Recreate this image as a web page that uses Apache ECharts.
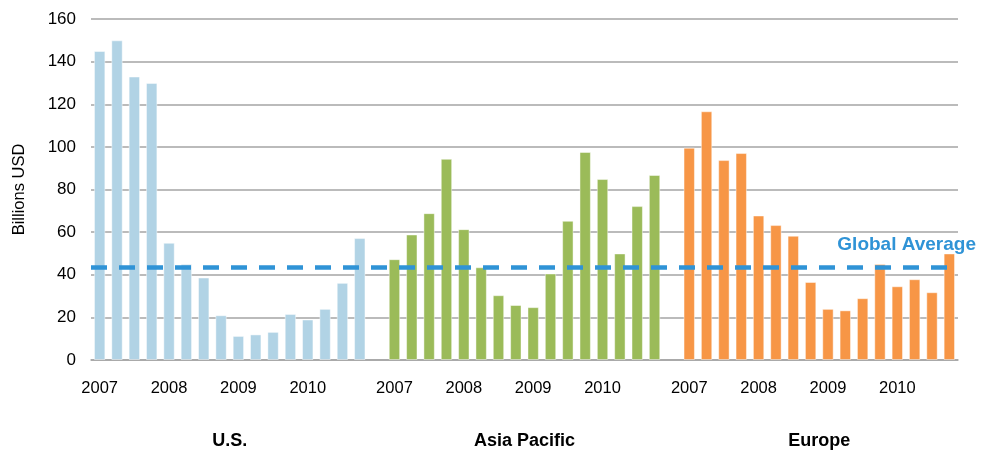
<!DOCTYPE html>
<html>
<head>
<meta charset="utf-8">
<script src="https://cdn.jsdelivr.net/npm/echarts@6/dist/echarts.min.js"></script>
<style>
  html, body { margin: 0; padding: 0; background: #fff; }
  #chart { width: 985px; height: 454px; }
</style>
</head>
<body>
<div id="chart"></div>
<script>
// 数据
const regions = ['U.S.', 'Asia Pacific', 'Europe']
const years = ['2007', '2008', '2009', '2010']
const usValues = [145, 150, 133, 130, 55, 45, 38.7, 21, 11.3, 12, 13.2, 21.6, 19, 24, 36.2, 57.2]
const asiaValues = [47.3, 58.9, 68.9, 94.4, 61.4, 43.5, 30.4, 25.8, 24.8, 40.6, 65.3, 97.6, 84.9, 50, 72.2, 86.8]
const europeValues = [99.6, 116.7, 93.8, 97.1, 67.8, 63.3, 58.3, 36.6, 24, 23.3, 29, 45, 34.6, 37.9, 31.8, 50]
const globalAverage = 43.4
const yTicks = [0, 20, 40, 60, 80, 100, 120, 140, 160]

const regionValues = [usValues, asiaValues, europeValues]
const colors = ['#b1d3e5', '#9bbb59', '#f79646']
const font = '"Liberation Sans", Arial, sans-serif'

// 构造类目：每个地区16个季度，中间空一格
let categories = []
let groupCenters = []
regions.forEach(function (r, g) {
    if (g > 0) categories.push('gap' + g)
    groupCenters.push(categories.length + 7.5)
    years.forEach(function (y) {
        for (let q = 1; q <= 4; q++) categories.push(r + '|' + y + '|Q' + q)
    })
})

const series = regionValues.map(function (vals, g) {
    const start = categories.indexOf(regions[g] + '|' + years[0] + '|Q1')
    const data = categories.map(function (c, i) {
        const k = i - start
        return (k >= 0 && k < vals.length) ? vals[k] : '-'
    })
    return {
        name: regions[g],
        type: 'bar',
        data: data,
        barWidth: 11.4,
        barGap: '-100%',
        itemStyle: { color: colors[g], borderColor: 'rgba(255,255,255,0.45)', borderWidth: 1 },
        z: 2
    }
})

// 全球平均线
series[2].markLine = {
    silent: true,
    symbol: 'none',
    z: 5,
    data: [{ yAxis: globalAverage }],
    lineStyle: { color: '#2f93d6', type: [16, 12], width: 4.5 },
    label: {
        show: true,
        position: 'insideEndTop',
        distance: [-18, 13],
        formatter: 'Global Average',
        color: '#2f93d6',
        fontFamily: font,
        fontWeight: 'bold',
        fontSize: 19
    }
}

const chart = echarts.init(document.getElementById('chart'))
chart.setOption({
    animation: false,
    grid: { left: 91, right: 27, top: 19, bottom: 94 },
    xAxis: [{
        type: 'category',
        data: categories,
        axisLine: { lineStyle: { color: '#a5a5a5', width: 1.5 } },
        axisTick: { show: false },
        axisLabel: {
            interval: function (i, v) { return v.slice(-2) === 'Q1' },
            formatter: function (v) { return v.split('|')[1] },
            margin: 20,
            color: '#000',
            fontFamily: font,
            fontSize: 16.5
        }
    }, {
        type: 'value',
        min: -0.5,
        max: categories.length - 0.5,
        position: 'bottom',
        offset: 60,
        axisLine: { show: false },
        axisTick: { show: false },
        splitLine: { show: false },
        axisLabel: {
            customValues: groupCenters,
            formatter: function (v) { return regions[groupCenters.indexOf(v)] || '' },
            margin: 12,
            color: '#000',
            fontFamily: font,
            fontWeight: 'bold',
            fontSize: 18
        }
    }],
    yAxis: {
        type: 'value',
        min: yTicks[0],
        max: yTicks[yTicks.length - 1],
        interval: 20,
        name: 'Billions USD',
        nameLocation: 'middle',
        nameGap: 63,
        nameTextStyle: { color: '#000', fontFamily: font, fontSize: 16.5 },
        axisLine: { show: false },
        axisTick: { show: false },
        axisLabel: { margin: 15, color: '#000', fontFamily: font, fontSize: 17 },
        splitLine: { lineStyle: { color: '#a5a5a5', width: 1.5 } }
    },
    series: series
})
</script>
</body>
</html>
